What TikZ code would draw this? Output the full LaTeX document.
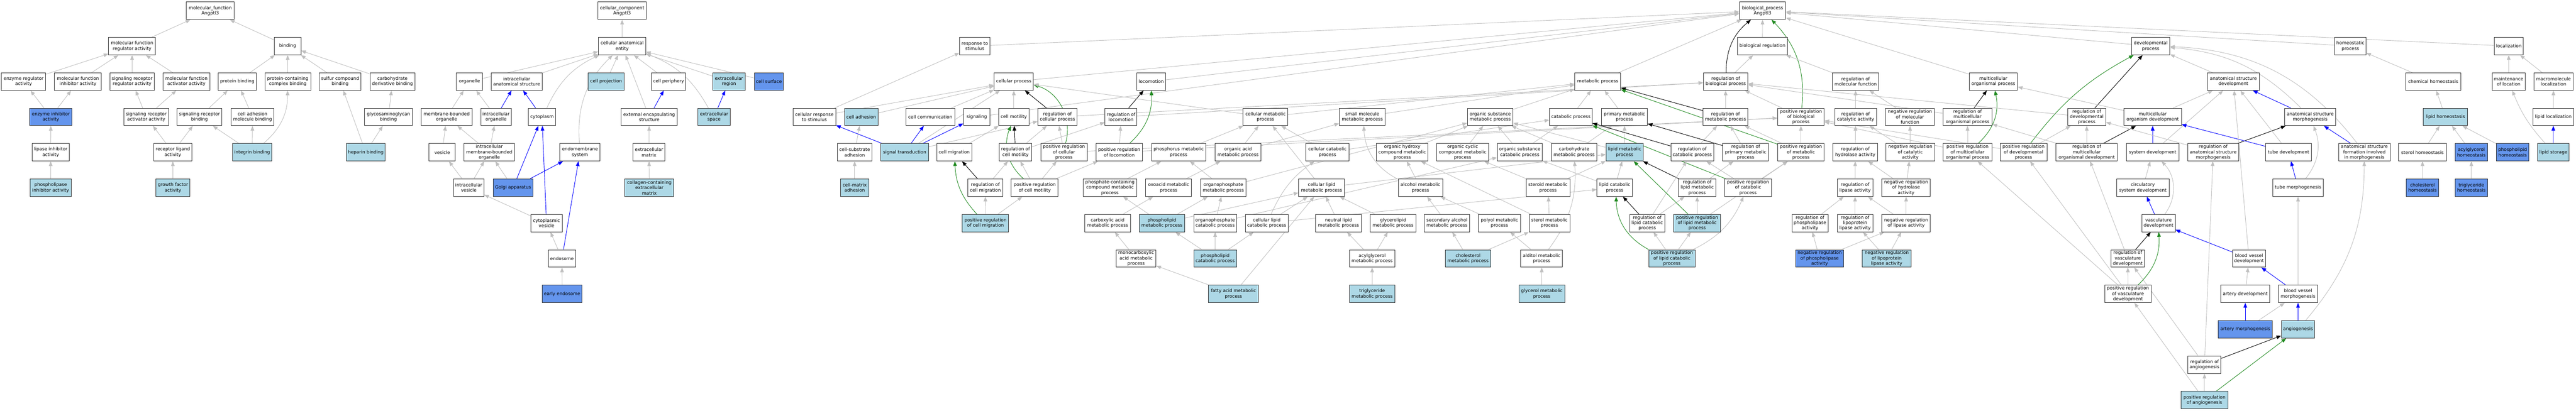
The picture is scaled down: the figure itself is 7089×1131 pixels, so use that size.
\documentclass[tikz,border=0pt]{standalone}
\usepackage{fontspec}
\setmainfont{DejaVu Sans}
\usetikzlibrary{arrows.meta}
\definecolor{edgegrey}{RGB}{192,192,192}
\definecolor{lblue}{RGB}{173,216,230}
\definecolor{cblue}{RGB}{100,149,237}
\definecolor{fgreen}{RGB}{34,139,34}
\pgfdeclarelayer{bg}
\pgfsetlayers{bg,main}
\begin{document}
\begin{tikzpicture}[x=1pt,y=-97.45pt,
  box/.style={draw=black!80, line width=1.4pt, fill=white, minimum height=48pt,
    inner xsep=2pt, inner ysep=1pt, align=center,
    font=\fontsize{12.4pt}{14.7pt}\selectfont},
  bw/.style={minimum width=#1pt},
  lb/.style={fill=lblue},
  cb/.style={fill=cblue},
  isa/.style={draw=edgegrey, line width=1.3pt, -{Triangle[length=13pt,width=10pt]}},
  partof/.style={draw=blue, line width=1.3pt, -{Triangle[length=13pt,width=10pt]}},
  regl/.style={draw=black, line width=1.3pt, -{Triangle[length=13pt,width=10pt]}},
  posr/.style={draw=fgreen, line width=1.3pt, -{Triangle[length=13pt,width=10pt]}}]
\useasboundingbox (0pt,0pt) rectangle (7089pt,-1131pt);
\begin{scope}[yshift=-29.5pt]
% ---------------- molecular function ----------------
\node[box,bw=131] (mf) at (578.5,0) {molecular\_function\\Angptl3};
\node[box,bw=129] (mfreg) at (363.5,1) {molecular function\\regulator activity};
\node[box,bw=73] (bind) at (791.5,1) {binding};
\node[box,bw=122] (enzreg) at (65,2) {enzyme regulator\\activity};
\node[box,bw=129] (mfinh) at (214.5,2) {molecular function\\inhibitor activity};
\node[box,bw=123] (sigrr) at (363.5,2) {signaling receptor\\regulator activity};
\node[box,bw=128.5] (mfact) at (513,2) {molecular function\\activator activity};
\node[box,bw=104] (protbind) at (653,2) {protein binding};
\node[box,bw=126] (pcbind) at (792,2) {protein-containing\\complex binding};
\node[box,bw=114.5] (sulfur) at (936,2) {sulfur compound\\binding};
\node[box,bw=124] (carbder) at (1080,2) {carbohydrate\\derivative binding};
\node[box,cb,bw=116] (enzinh) at (140,3) {enzyme inhibitor\\activity};
\node[box,bw=123] (sigra) at (402.5,3) {signaling receptor\\activator activity};
\node[box,bw=123] (sigrb) at (549,3) {signaling receptor\\binding};
\node[box,bw=118.5] (camb) at (695,3) {cell adhesion\\molecule binding};
\node[box,bw=132] (gag) at (1069,3) {glycosaminoglycan\\binding};
\node[box,bw=103] (lipinh) at (139.5,4) {lipase inhibitor\\activity};
\node[box,bw=105] (rla) at (475.5,4) {receptor ligand\\activity};
\node[box,lb,bw=107.5] (integrin) at (694,4) {integrin binding};
\node[box,lb,bw=107] (heparin) at (1006.5,4) {heparin binding};
\node[box,lb,bw=113] (plinh) at (139.5,5) {phospholipase\\inhibitor activity};
\node[box,lb,bw=94] (gfa) at (476,5) {growth factor\\activity};
% ---------------- cellular component ----------------
\node[box,bw=134] (cc) at (1712,0) {cellular\_component\\Angptl3};
\node[box,bw=130] (cae) at (1712,1) {cellular anatomical\\entity};
\node[box,bw=72] (organelle) at (1292,2) {organelle};
\node[box,bw=141.5] (ias) at (1422,2) {intracellular\\anatomical structure};
\node[box,lb,bw=98.5] (cellproj) at (1668,2) {cell projection};
\node[box,bw=94] (cellper) at (1840,2) {cell periphery};
\node[box,lb,bw=88.5] (ecreg) at (2006,2) {extracellular\\region};
\node[box,cb,bw=80.5] (cellsurf) at (2116,2) {cell surface};
\node[box,bw=139.5] (mbo) at (1229,3) {membrane-bounded\\organelle};
\node[box,bw=83.5] (io) at (1365,3) {intracellular\\organelle};
\node[box,bw=75] (cytoplasm) at (1491.5,3) {cytoplasm};
\node[box,bw=155] (ees) at (1786.5,3) {external encapsulating\\structure};
\node[box,lb,bw=88] (ecspace) at (1965,3) {extracellular\\space};
\node[box,bw=72] (vesicle) at (1217,4) {vesicle};
\node[box,bw=139] (imbo) at (1346.5,4) {intracellular\\membrane-bounded\\organelle};
\node[box,bw=110] (endomem) at (1596,4) {endomembrane\\system};
\node[box,bw=87.5] (ecm) at (1786,4) {extracellular\\matrix};
\node[box,bw=83.5] (iv) at (1290,5) {intracellular\\vesicle};
\node[box,cb,bw=110] (golgi) at (1412,5) {Golgi apparatus};
\node[box,lb,bw=134.5] (ccecm) at (1787,5) {collagen-containing\\extracellular\\matrix};
\node[box,bw=86] (cytves) at (1504,6) {cytoplasmic\\vesicle};
\node[box,bw=75] (endosome) at (1546.5,7) {endosome};
\node[box,cb,bw=110] (earlyendo) at (1547,8) {early endosome};
% ---------------- biological process ----------------
\node[box,bw=127] (bp) at (4850.5,0) {biological\_process\\Angptl3};
\node[box,bw=138] (biolreg) at (4850,1) {biological regulation};
\node[box,bw=83] (resp) at (2682.5,1) {response to\\stimulus};
\node[box,bw=105] (devproc) at (5918.5,1) {developmental\\process};
\node[box,bw=86] (homeo) at (6468,1) {homeostatic\\process};
\node[box,bw=80] (local) at (6904,1) {localization};
\node[box,bw=108] (cellproc) at (2790,2) {cellular process};
\node[box,bw=78.5] (locom) at (3168,2) {locomotion};
\node[box,bw=126] (metab) at (4397,2) {metabolic process};
\node[box,bw=122] (regbp) at (4749,2) {regulation of\\biological process};
\node[box,bw=128] (regmf) at (5106.5,2) {regulation of\\molecular function};
\node[box,bw=133] (mcop) at (5485.5,2) {multicellular\\organismal process};
\node[box,bw=142] (asd) at (6146,2) {anatomical structure\\development};
\node[box,bw=152] (chemh) at (6696,2) {chemical homeostasis};
\node[box,bw=91] (mainloc) at (6903.5,2) {maintenance\\of location};
\node[box,bw=107.6] (macroloc) at (7027,2) {macromolecule\\localization};
\node[box,bw=118] (crs) at (2241,3) {cellular response\\to stimulus};
\node[box,lb,bw=92] (celladh) at (2370,3) {cell adhesion};
\node[box,bw=134.5] (cellcomm) at (2560,3) {cell communication};
\node[box,bw=72.5] (signaling) at (2688,3) {signaling};
\node[box,bw=84] (cellmot) at (2790,3) {cell motility};
\node[box,bw=107.5] (regcp) at (2910,3) {regulation of\\cellular process};
\node[box,bw=88] (regloc) at (3085,3) {regulation of\\locomotion};
\node[box,bw=123] (cmp) at (3482.5,3) {cellular metabolic\\process};
\node[box,bw=126] (smmp) at (3749,3) {small molecule\\metabolic process};
\node[box,bw=126] (osmp) at (4101,3) {organic substance\\metabolic process};
\node[box,bw=117.5] (catab) at (4323,3) {catabolic process};
\node[box,bw=126] (pmp) at (4470.5,3) {primary metabolic\\process};
\node[box,bw=123] (regmp) at (4748.5,3) {regulation of\\metabolic process};
\node[box,bw=128] (posregbp) at (4956,3) {positive regulation\\of biological\\process};
\node[box,bw=115] (regcat) at (5106.5,3) {regulation of\\catalytic activity};
\node[box,bw=134] (negregmf) at (5256,3) {negative regulation\\of molecular\\function};
\node[box,bw=135] (regmcop) at (5414.5,3) {regulation of\\multicellular\\organismal process};
\node[box,bw=104.5] (regdev) at (5742.5,3) {regulation of\\developmental\\process};
\node[box,bw=158] (mod) at (5924,3) {multicellular\\organism development};
\node[box,bw=141] (asm) at (6357.5,3) {anatomical structure\\morphogenesis};
\node[box,lb,bw=121] (liphomeo) at (6729.5,3) {lipid homeostasis};
\node[box,bw=113] (liploc) at (7026.5,3) {lipid localization};
\node[box,bw=94.5] (csub) at (2352,4) {cell-substrate\\adhesion};
\node[box,lb,bw=131] (sigtrans) at (2489.5,4) {signal transduction};
\node[box,bw=96] (cellmig) at (2626,4) {cell migration};
\node[box,bw=89] (regcm) at (2794.5,4) {regulation of\\cell motility};
\node[box,bw=128] (posregcp) at (2928,4) {positive regulation\\of cellular\\process};
\node[box,bw=128] (posregloc) at (3080,4) {positive regulation\\of locomotion};
\node[box,bw=149] (phosmp) at (3243.5,4) {phosphorus metabolic\\process};
\node[box,bw=126] (oamp) at (3407,4) {organic acid\\metabolic process};
\node[box,bw=118] (ccp) at (3653,4) {cellular catabolic\\process};
\node[box,bw=142] (ohcmp) at (3859,4) {organic hydroxy\\compound metabolic\\process};
\node[box,bw=142] (occmp) at (4025,4) {organic cyclic\\compound metabolic\\process};
\node[box,bw=123.5] (oscp) at (4182.3,4) {organic substance\\catabolic process};
\node[box,bw=125.5] (carbmp) at (4331.8,4) {carbohydrate\\metabolic process};
\node[box,lb,bw=101.5] (lmp) at (4470.8,4) {lipid metabolic\\process};
\node[box,bw=118] (regcatp) at (4657,4) {regulation of\\catabolic process};
\node[box,bw=126] (regpmp) at (4804,4) {regulation of\\primary metabolic\\process};
\node[box,bw=128] (posregmp) at (4956,4) {positive regulation\\of metabolic\\process};
\node[box,bw=123] (reghyd) at (5105.5,4) {regulation of\\hydrolase activity};
\node[box,bw=134] (negregcat) at (5257,4) {negative regulation\\of catalytic\\activity};
\node[box,bw=135] (posregmcop) at (5414.5,4) {positive regulation\\of multicellular\\organismal process};
\node[box,bw=129] (posregdev) at (5568.5,4) {positive regulation\\of developmental\\process};
\node[box,bw=169] (regmcod) at (5742.5,4) {regulation of\\multicellular\\organismal development};
\node[box,bw=144] (sysdev) at (5924,4) {system development};
\node[box,bw=141] (regasm) at (6090.5,4) {regulation of\\anatomical structure\\morphogenesis};
\node[box,bw=126] (tubedev) at (6298,4) {tube development};
\node[box,bw=142] (asf) at (6506.5,4) {anatomical structure\\formation involved\\in morphogenesis};
\node[box,bw=131] (sterolh) at (6666.5,4) {sterol homeostasis};
\node[box,cb,bw=89] (acylh) at (6801,4) {acylglycerol\\homeostasis};
\node[box,cb,bw=89] (phosh) at (6914.5,4) {phospholipid\\homeostasis};
\node[box,lb,bw=86] (lipstor) at (7026.6,4) {lipid storage};
\node[box,lb,bw=78] (csm) at (2352,5) {cell-matrix\\adhesion};
\node[box,bw=96] (regcmig) at (2711.6,5) {regulation of\\cell migration};
\node[box,bw=129] (posregcm) at (2847.5,5) {positive regulation\\of cell motility};
\node[box,bw=147] (pccmp) at (3054.5,5) {phosphate-containing\\compound metabolic\\process};
\node[box,bw=126] (oxoacid) at (3216,5) {oxoacid metabolic\\process};
\node[box,bw=125.5] (opmp) at (3366.5,5) {organophosphate\\metabolic process};
\node[box,bw=126] (clmp) at (3637,5) {cellular lipid\\metabolic process};
\node[box,bw=122] (alcmp) at (3909,5) {alcohol metabolic\\process};
\node[box,bw=120.5] (steroid) at (4260,5) {steroid metabolic\\process};
\node[box,bw=97] (lcp) at (4443.5,5) {lipid catabolic\\process};
\node[box,bw=103] (reglmp) at (4670.5,5) {regulation of\\lipid metabolic\\process};
\node[box,bw=129] (posregcatp) at (4810.5,5) {positive regulation\\of catabolic\\process};
\node[box,bw=98] (reglip) at (5105,5) {regulation of\\lipase activity};
\node[box,bw=133] (negreghyd) at (5245.5,5) {negative regulation\\of hydrolase\\activity};
\node[box,bw=144] (csd) at (5897,5) {circulatory\\system development};
\node[box,bw=138.5] (tubemorph) at (6324,5) {tube morphogenesis};
\node[box,cb,bw=89] (cholh) at (6666.5,5) {cholesterol\\homeostasis};
\node[box,cb,bw=89] (trigh) at (6801,5) {triglyceride\\homeostasis};
\node[box,lb,bw=128] (posregcmig) at (2712,6) {positive regulation\\of cell migration};
\node[box,bw=125.5] (amp) at (3048,6) {carboxylic acid\\metabolic process};
\node[box,lb,bw=125] (plmp) at (3197.5,6) {phospholipid\\metabolic process};
\node[box,bw=118] (opcp) at (3344,6) {organophosphate\\catabolic process};
\node[box,bw=117.5] (clcp) at (3486,6) {cellular lipid\\catabolic process};
\node[box,bw=125.5] (nlmp) at (3683.5,6) {neutral lipid\\metabolic process};
\node[box,bw=125.5] (glmp) at (3833.5,6) {glycerolipid\\metabolic process};
\node[box,bw=125.5] (samp) at (3982,6) {secondary alcohol\\metabolic process};
\node[box,bw=115] (polyol) at (4126.5,6) {polyol metabolic\\process};
\node[box,bw=112] (sterolmp) at (4264,6) {sterol metabolic\\process};
\node[box,bw=97] (reglcp) at (4533,6) {regulation of\\lipid catabolic\\process};
\node[box,lb,bw=129] (posreglmp) at (4670.5,6) {positive regulation\\of lipid metabolic\\process};
\node[box,bw=99.5] (regpla) at (4981,6) {regulation of\\phospholipase\\activity};
\node[box,bw=98] (reglpla) at (5105,6) {regulation of\\lipoprotein\\lipase activity};
\node[box,bw=133] (negreglip) at (5245.5,6) {negative regulation\\of lipase activity};
\node[box,bw=92] (vascdev) at (5940,6) {vasculature\\development};
\node[box,bw=109.5] (monocarb) at (3126.5,7) {monocarboxylic\\acid metabolic\\process};
\node[box,lb,bw=118] (plcp) at (3344,7) {phospholipid\\catabolic process};
\node[box,bw=125.5] (acylmp) at (3776,7) {acylglycerol\\metabolic process};
\node[box,lb,bw=126] (cholmp) at (4040,7) {cholesterol\\metabolic process};
\node[box,bw=115] (alditol) at (4242.5,7) {alditol metabolic\\process};
\node[box,lb,bw=128] (posreglcp) at (4601,7) {positive regulation\\of lipid catabolic\\process};
\node[box,cb,bw=133] (negregpla) at (5007.5,7) {negative regulation\\of phospholipase\\activity};
\node[box,lb,bw=134] (negreglpla) at (5192,7) {negative regulation\\of lipoprotein\\lipase activity};
\node[box,bw=91] (regvasc) at (5855.5,7) {regulation of\\vasculature\\development};
\node[box,bw=90] (bvd) at (6189,7) {blood vessel\\development};
\node[box,lb,bw=137] (fatty) at (3394.5,8) {fatty acid metabolic\\process};
\node[box,lb,bw=125.5] (trigmp) at (3776,8) {triglyceride\\metabolic process};
\node[box,lb,bw=126] (glycerol) at (4243,8) {glycerol metabolic\\process};
\node[box,bw=128] (posregvasc) at (5856,8) {positive regulation\\of vasculature\\development};
\node[box,bw=133.5] (arterydev) at (6178.8,8) {artery development};
\node[box,bw=106.5] (bvm) at (6324,8) {blood vessel\\morphogenesis};
\node[box,cb,bw=150] (arterymorph) at (6178.8,9) {artery morphogenesis};
\node[box,lb,bw=91.6] (angio) at (6324,9) {angiogenesis};
\node[box,bw=91] (regangio) at (6066.5,10) {regulation of\\angiogenesis};
\node[box,lb,bw=129] (posregangio) at (6066.5,11) {positive regulation\\of angiogenesis};
\end{scope}
\begin{pgfonlayer}{bg}
\fill[white] (0pt,0pt) rectangle (7089pt,-1131pt);
% MF edges
\draw[isa] (mfreg) -- (mf);
\draw[isa] (bind) -- (mf);
\draw[isa] (enzreg) -- (mfreg);
\draw[isa] (mfinh) -- (mfreg);
\draw[isa] (sigrr) -- (mfreg);
\draw[isa] (mfact) -- (mfreg);
\draw[isa] (enzinh) -- (enzreg);
\draw[isa] (enzinh) -- (mfinh);
\draw[isa] (lipinh) -- (enzinh);
\draw[isa] (plinh) -- (lipinh);
\draw[isa] (sigra) -- (sigrr);
\draw[isa] (sigra) -- (mfact);
\draw[isa] (rla) -- (sigra);
\draw[isa] (rla) -- (sigrb);
\draw[isa] (gfa) -- (rla);
\draw[isa] (sigrb) -- (protbind);
\draw[isa] (protbind) -- (bind);
\draw[isa] (pcbind) -- (bind);
\draw[isa] (sulfur) -- (bind);
\draw[isa] (carbder) -- (bind);
\draw[isa] (camb) -- (protbind);
\draw[isa] (integrin) -- (sigrb);
\draw[isa] (integrin) -- (camb);
\draw[isa] (integrin) to[bend right=25] (pcbind);
\draw[isa] (heparin) -- (sulfur);
\draw[isa] (heparin) -- (gag);
\draw[isa] (gag) -- (carbder);
% CC edges
\draw[isa] (cae) -- (cc);
\draw[isa] (organelle) -- (cae);
\draw[isa] (ias) -- (cae);
\draw[isa] (cytoplasm) to[bend left=20] (cae);
\draw[isa] (endomem) to[bend left=25] (cae);
\draw[isa] (cellproj) -- (cae);
\draw[isa] (ees) -- (cae);
\draw[isa] (cellper) -- (cae);
\draw[isa] (ecreg) -- (cae);
\draw[isa] (ecspace) to[bend right=20] (cae);
\draw[isa] (cellsurf) -- (cae);
\draw[isa] (mbo) -- (organelle);
\draw[isa] (io) -- (organelle);
\draw[partof] (io) -- (ias);
\draw[partof] (cytoplasm) -- (ias);
\draw[isa] (vesicle) -- (mbo);
\draw[isa] (imbo) -- (mbo);
\draw[isa] (imbo) -- (io);
\draw[isa] (iv) -- (vesicle);
\draw[isa] (iv) -- (imbo);
\draw[isa] (golgi) -- (imbo);
\draw[partof] (golgi) -- (cytoplasm);
\draw[partof] (golgi) -- (endomem);
\draw[isa] (cytves) -- (iv);
\draw[partof] (cytves) -- (cytoplasm);
\draw[isa] (endosome) -- (cytves);
\draw[partof] (endosome) -- (endomem);
\draw[isa] (earlyendo) -- (endosome);
\draw[partof] (ees) -- (cellper);
\draw[partof] (ecspace) -- (ecreg);
\draw[isa] (ecm) -- (ees);
\draw[isa] (ccecm) -- (ecm);
% BP top level
\draw[isa] (biolreg) -- (bp);
\draw[isa] (resp) -- (bp);
\draw[isa] (cellproc) -- (bp);
\draw[isa] (locom) -- (bp);
\draw[isa] (signaling) -- (bp);
\draw[isa] (metab) -- (bp);
\draw[isa] (mcop) -- (bp);
\draw[isa] (devproc) -- (bp);
\draw[isa] (homeo) -- (bp);
\draw[isa] (local) -- (bp);
\draw[regl] (regbp) to[bend left=25] (bp);
\draw[posr] (posregbp) to[bend right=25] (bp);
\draw[isa] (regbp) -- (biolreg);
\draw[isa] (regmf) -- (biolreg);
% homeostasis / localization
\draw[isa] (chemh) -- (homeo);
\draw[isa] (mainloc) -- (local);
\draw[isa] (macroloc) -- (local);
\draw[isa] (liphomeo) -- (chemh);
\draw[isa] (liploc) -- (macroloc);
\draw[isa] (sterolh) -- (liphomeo);
\draw[isa] (acylh) -- (liphomeo);
\draw[isa] (phosh) -- (liphomeo);
\draw[partof] (lipstor) -- (liploc);
\draw[isa] (lipstor) to[bend left=10] (mainloc);
\draw[isa] (cholh) -- (sterolh);
\draw[isa] (trigh) -- (acylh);
% cellular process block
\draw[isa] (crs) -- (resp);
\draw[isa] (crs) -- (cellproc);
\draw[isa] (celladh) -- (cellproc);
\draw[isa] (csub) -- (celladh);
\draw[isa] (csm) -- (csub);
\draw[partof] (sigtrans) -- (crs);
\draw[partof] (sigtrans) -- (cellcomm);
\draw[partof] (sigtrans) -- (signaling);
\draw[isa] (sigtrans) -- (regcp);
\draw[isa] (sigtrans) -- (cellproc);
\draw[isa] (cellcomm) -- (cellproc);
\draw[isa] (cellmot) -- (cellproc);
\draw[regl] (regcp) -- (cellproc);
\draw[posr] (posregcp) to[bend right=45] (cellproc);
\draw[isa] (regcp) -- (regbp);
\draw[regl] (regloc) -- (locom);
\draw[isa] (regloc) -- (regbp);
\draw[posr] (posregloc) to[bend right=25] (locom);
\draw[isa] (posregloc) -- (regloc);
\draw[isa] (posregloc) -- (posregbp);
\draw[isa] (cellmig) -- (cellmot);
\draw[regl] (regcm) -- (cellmot);
\draw[isa] (regcm) -- (regcp);
\draw[isa] (regcm) -- (regloc);
\draw[isa] (posregcp) -- (regcp);
\draw[isa] (posregcp) -- (posregbp);
\draw[regl] (regcmig) -- (cellmig);
\draw[isa] (regcmig) -- (regcm);
\draw[posr] (posregcm) to[bend left=35] (cellmot);
\draw[isa] (posregcm) -- (regcm);
\draw[isa] (posregcm) -- (posregcp);
\draw[isa] (posregcm) -- (posregloc);
\draw[posr] (posregcmig) to[bend left=20] (cellmig);
\draw[isa] (posregcmig) -- (regcmig);
\draw[isa] (posregcmig) -- (posregcm);
% metabolism
\draw[isa] (cmp) -- (metab);
\draw[isa] (cmp) -- (cellproc);
\draw[isa] (smmp) -- (metab);
\draw[isa] (osmp) -- (metab);
\draw[isa] (catab) -- (metab);
\draw[isa] (pmp) -- (metab);
\draw[isa] (regmp) -- (regbp);
\draw[regl] (regmp) -- (metab);
\draw[posr] (posregmp) -- (metab);
\draw[isa] (posregmp) -- (regmp);
\draw[isa] (posregmp) -- (posregbp);
\draw[isa] (phosmp) -- (cmp);
\draw[isa] (oamp) -- (cmp);
\draw[isa] (oamp) -- (smmp);
\draw[isa] (ccp) -- (cmp);
\draw[isa] (ccp) -- (catab);
\draw[isa] (ohcmp) -- (osmp);
\draw[isa] (occmp) -- (osmp);
\draw[isa] (opmp) -- (osmp);
\draw[isa] (oxoacid) -- (oamp);
\draw[isa] (pccmp) -- (phosmp);
\draw[isa] (opmp) -- (phosmp);
\draw[isa] (amp) -- (oxoacid);
\draw[isa] (monocarb) -- (amp);
\draw[isa] (plmp) -- (pccmp);
\draw[isa] (plmp) -- (opmp);
\draw[isa] (plmp) -- (clmp);
\draw[isa] (opcp) -- (opmp);
\draw[isa] (opcp) -- (oscp);
\draw[isa] (plcp) -- (opcp);
\draw[isa] (plcp) -- (clcp);
\draw[isa] (plcp) -- (plmp);
\draw[isa] (clmp) -- (cmp);
\draw[isa] (clmp) -- (lmp);
\draw[isa] (clcp) -- (clmp);
\draw[isa] (clcp) to[bend left=15] (ccp);
\draw[isa] (clcp) -- (lcp);
\draw[isa] (nlmp) -- (clmp);
\draw[isa] (glmp) -- (clmp);
\draw[isa] (acylmp) -- (nlmp);
\draw[isa] (acylmp) -- (glmp);
\draw[isa] (trigmp) -- (acylmp);
\draw[isa] (fatty) -- (clmp);
\draw[isa] (fatty) -- (monocarb);
\draw[isa] (alcmp) -- (ohcmp);
\draw[isa] (alcmp) to[bend left=30] (smmp);
\draw[isa] (samp) -- (alcmp);
\draw[isa] (cholmp) -- (samp);
\draw[isa] (cholmp) -- (sterolmp);
\draw[isa] (oscp) -- (osmp);
\draw[isa] (oscp) -- (catab);
\draw[isa] (carbmp) -- (pmp);
\draw[isa] (carbmp) -- (osmp);
\draw[isa] (lmp) -- (pmp);
\draw[isa] (lmp) -- (osmp);
\draw[isa] (lcp) -- (lmp);
\draw[isa] (lcp) -- (oscp);
\draw[isa] (steroid) -- (lmp);
\draw[isa] (steroid) -- (occmp);
\draw[isa] (sterolmp) -- (steroid);
\draw[isa] (sterolmp) -- (ohcmp);
\draw[isa] (polyol) -- (alcmp);
\draw[isa] (alditol) -- (polyol);
\draw[isa] (alditol) to[bend right=20] (carbmp);
\draw[isa] (glycerol) -- (alditol);
\draw[regl] (regcatp) -- (catab);
\draw[isa] (regcatp) -- (regmp);
\draw[regl] (regpmp) -- (pmp);
\draw[isa] (regpmp) -- (regmp);
\draw[regl] (reglmp) -- (lmp);
\draw[isa] (reglmp) -- (regpmp);
\draw[posr] (posregcatp) -- (catab);
\draw[isa] (posregcatp) -- (regcatp);
\draw[isa] (posregcatp) -- (posregmp);
\draw[regl] (reglcp) -- (lcp);
\draw[isa] (reglcp) -- (reglmp);
\draw[isa] (reglcp) -- (regcatp);
\draw[posr] (posreglmp) -- (lmp);
\draw[isa] (posreglmp) -- (reglmp);
\draw[isa] (posreglmp) -- (posregmp);
\draw[posr] (posreglcp) to[bend left=30] (lcp);
\draw[isa] (posreglcp) -- (reglcp);
\draw[isa] (posreglcp) -- (posreglmp);
\draw[isa] (posreglcp) to[bend right=20] (posregcatp);
% molecular function regulation
\draw[isa] (regcat) -- (regmf);
\draw[isa] (negregmf) -- (regmf);
\draw[isa] (reghyd) -- (regcat);
\draw[isa] (negregcat) -- (regcat);
\draw[isa] (negregcat) -- (negregmf);
\draw[isa] (reglip) -- (reghyd);
\draw[isa] (negreghyd) -- (reghyd);
\draw[isa] (negreghyd) -- (negregcat);
\draw[isa] (regpla) -- (reglip);
\draw[isa] (reglpla) -- (reglip);
\draw[isa] (negreglip) -- (reglip);
\draw[isa] (negreglip) -- (negreghyd);
\draw[isa] (negregpla) -- (regpla);
\draw[isa] (negregpla) -- (negreglip);
\draw[isa] (negreglpla) -- (reglpla);
\draw[isa] (negreglpla) -- (negreglip);
% multicellular / development
\draw[isa] (posregbp) -- (regbp);
\draw[regl] (regmcop) -- (mcop);
\draw[isa] (regmcop) -- (regbp);
\draw[posr] (posregmcop) to[bend right=30] (mcop);
\draw[isa] (posregmcop) -- (regmcop);
\draw[isa] (posregmcop) -- (posregbp);
\draw[isa] (posregdev) -- (posregbp);
\draw[posr] (posregdev) to[bend left=12] (devproc);
\draw[isa] (posregdev) -- (regdev);
\draw[regl] (regdev) -- (devproc);
\draw[isa] (regdev) -- (regbp);
\draw[isa] (asd) -- (devproc);
\draw[isa] (mod) -- (asd);
\draw[isa] (mod) -- (mcop);
\draw[partof] (asm) -- (asd);
\draw[isa] (asm) to[bend right=20] (devproc);
\draw[partof] (asf) -- (asm);
\draw[isa] (asf) to[bend right=25] (devproc);
\draw[regl] (regmcod) -- (mod);
\draw[isa] (regmcod) -- (regdev);
\draw[isa] (regmcod) -- (regmcop);
\draw[partof] (sysdev) -- (mod);
\draw[isa] (sysdev) -- (asd);
\draw[regl] (regasm) -- (asm);
\draw[isa] (regasm) -- (regdev);
\draw[isa] (tubedev) -- (asd);
\draw[partof] (tubedev) -- (mod);
\draw[isa] (csd) -- (sysdev);
\draw[partof] (tubemorph) -- (tubedev);
\draw[isa] (tubemorph) to[bend right=30] (asm);
\draw[partof] (vascdev) -- (csd);
\draw[isa] (vascdev) to[bend right=40] (sysdev);
\draw[regl] (regvasc) -- (vascdev);
\draw[isa] (regvasc) -- (regmcod);
\draw[partof] (bvd) -- (vascdev);
\draw[isa] (bvd) -- (asd);
\draw[isa] (posregvasc) -- (regvasc);
\draw[posr] (posregvasc) to[bend right=25] (vascdev);
\draw[isa] (posregvasc) -- (posregdev);
\draw[isa] (posregvasc) -- (posregmcop);
\draw[isa] (arterydev) -- (bvd);
\draw[partof] (bvm) -- (bvd);
\draw[isa] (bvm) -- (tubemorph);
\draw[partof] (arterymorph) -- (arterydev);
\draw[isa] (arterymorph) -- (bvm);
\draw[partof] (angio) -- (bvm);
\draw[isa] (angio) to[bend right=20] (asf);
\draw[regl] (regangio) -- (angio);
\draw[isa] (regangio) -- (regvasc);
\draw[isa] (regangio) -- (regasm);
\draw[posr] (posregangio) -- (angio);
\draw[isa] (posregangio) -- (regangio);
\draw[isa] (posregangio) -- (posregvasc);
\end{pgfonlayer}
\end{tikzpicture}
\end{document}
